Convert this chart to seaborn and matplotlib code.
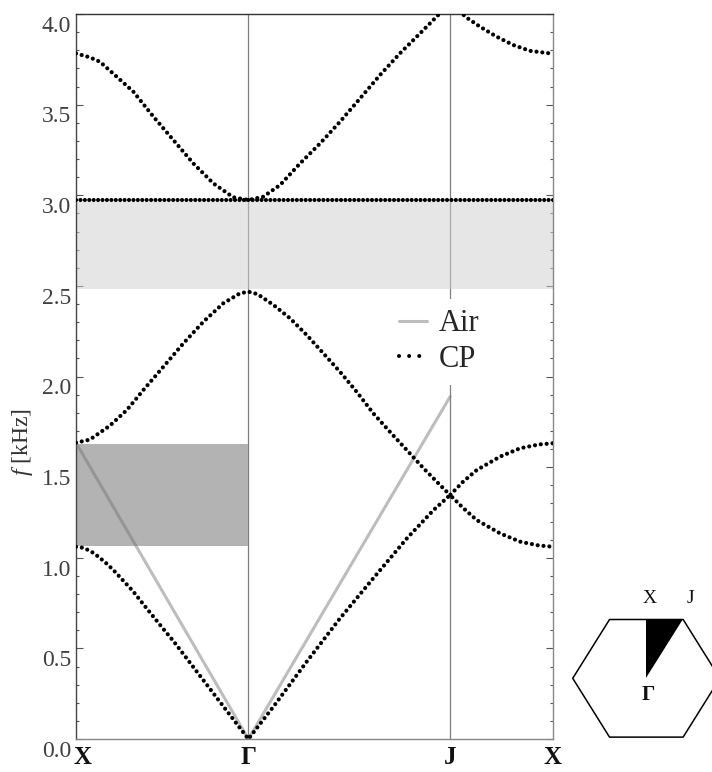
import matplotlib
import matplotlib.pyplot as plt
import matplotlib.transforms as mtransforms
import seaborn as sns

from matplotlib.lines import Line2D

matplotlib.use("Agg")

# symmetry points along the path X - Gamma - J - X
sym_pos = [0.0, 0.570, 1.237, 1.577]
sym_labels = ["X", "Γ", "J", "X"]

y_ticks = [0.0, 0.5, 1.0, 1.5, 2.0, 2.5, 3.0, 3.5, 4.0]
y_tick_labels = ["0.0", "0.5", "1.0", "1.5", "2.0", "2.5", "3.0", "3.5", "4.0"]

# CP bands
band1_k = [0.000, 0.025, 0.050, 0.075, 0.100, 0.125, 0.150, 0.189, 0.222, 0.256,
           0.289, 0.322, 0.355, 0.388, 0.421, 0.454, 0.487, 0.520, 0.570, 0.653,
           0.763, 0.873, 0.983, 1.094, 1.182, 1.237, 1.280, 1.325, 1.402, 1.468,
           1.530, 1.577]
band1_f = [1.061, 1.055, 1.035, 1.005, 0.970, 0.930, 0.885, 0.815, 0.745, 0.675,
           0.607, 0.541, 0.469, 0.397, 0.325, 0.253, 0.181, 0.109, 0.000, 0.179,
           0.427, 0.666, 0.887, 1.107, 1.263, 1.346, 1.275, 1.208, 1.135, 1.089,
           1.068, 1.061]

band2_k = [0.000, 0.046, 0.112, 0.168, 0.223, 0.289, 0.355, 0.421, 0.487, 0.542,
           0.570, 0.600, 0.653, 0.708, 0.763, 0.818, 0.873, 0.928, 0.983, 1.038,
           1.094, 1.149, 1.204, 1.237, 1.280, 1.325, 1.402, 1.468, 1.530, 1.577]
band2_f = [1.635, 1.652, 1.729, 1.815, 1.926, 2.054, 2.183, 2.302, 2.404, 2.459,
           2.468, 2.455, 2.395, 2.321, 2.229, 2.128, 2.026, 1.916, 1.797, 1.695,
           1.594, 1.494, 1.401, 1.346, 1.420, 1.484, 1.558, 1.604, 1.625, 1.632]

band3_k = [0.000, 0.570, 1.237, 1.577]
band3_f = [2.974, 2.974, 2.974, 2.974]

band4_k = [0.000, 0.046, 0.079, 0.129, 0.190, 0.256, 0.322, 0.388, 0.454, 0.520,
           0.570, 0.619, 0.675, 0.741, 0.807, 0.873, 0.939, 1.005, 1.071, 1.138,
           1.198, 1.237, 1.292, 1.336, 1.391, 1.446, 1.501, 1.5675, 1.577]
band4_f = [3.783, 3.761, 3.737, 3.663, 3.571, 3.434, 3.305, 3.176, 3.066, 2.989,
           2.974, 2.992, 3.057, 3.176, 3.286, 3.406, 3.534, 3.663, 3.783, 3.894,
           3.995, 4.060, 3.980, 3.930, 3.875, 3.829, 3.797, 3.783, 3.783]

# air light line
air_k = [0.000, 0.570, 1.237]
air_f = [1.635, 0.000, 1.889]

# band gaps
full_gap = (2.481, 2.965)
partial_gap = (1.065, 1.628)
partial_gap_k = [0.000, 0.570]

# Brillouin zone sketch (unit hexagon, irreducible wedge Gamma-X-J)
hex_x = [1.0, 0.5, -0.5, -1.0, -0.5, 0.5, 1.0]
hex_y = [0.0, 0.866, 0.866, 0.0, -0.866, -0.866, 0.0]
ibz_x = [0.0, 0.0, 0.5]
ibz_y = [0.0, 0.866, 0.866]

sns.set_theme(style="white")
plt.rcParams["font.family"] = ["Liberation Serif", "DejaVu Serif"]
plt.rcParams["mathtext.fontset"] = "custom"
plt.rcParams["mathtext.rm"] = "Liberation Serif"
plt.rcParams["mathtext.it"] = "Liberation Serif:italic"

DOT = (0, (0.01, 1.4))
DOT_FLAT = (0, (0.01, 1.05))
AIR_COLOR = "#757575"

fig = plt.figure(figsize=(7.12, 7.72), dpi=100)
ax = fig.add_axes([0.1067, 0.0427, 0.6699, 0.9391])

for xv in sym_pos[1:3]:
    ax.axvline(xv, color="#7f7f7f", lw=0.9, zorder=0.5)

ax.axhspan(*full_gap, color="#d0d0d0", alpha=0.53, lw=0, zorder=1)
ax.fill_between(partial_gap_k, partial_gap[0], partial_gap[1],
                color="#b3b3b3", lw=0, zorder=1)

sns.lineplot(x=air_k, y=air_f, ax=ax, color=AIR_COLOR, alpha=0.48, lw=2.2,
             sort=False, estimator=None, zorder=3)

for k, f in [(band1_k, band1_f), (band2_k, band2_f), (band4_k, band4_f)]:
    sns.lineplot(x=k, y=f, ax=ax, color="black", lw=3.0, linestyle=DOT,
                 dash_capstyle="round", sort=False, estimator=None, zorder=4)
sns.lineplot(x=band3_k, y=band3_f, ax=ax, color="black", lw=3.0, linestyle=DOT_FLAT,
             dash_capstyle="round", sort=False, estimator=None, zorder=4)

ax.set_xlim(sym_pos[0], sym_pos[-1])
ax.set_ylim(0, 4)
ax.set_xticks(sym_pos)
ax.set_xticklabels(sym_labels, fontweight="bold", fontsize=18, color="#111111")
ax.set_yticks(y_ticks)
ax.set_yticklabels(y_tick_labels, fontsize=17, color="#404040")
ax.set_yticks([v / 10 for v in range(41)], minor=True)
ax.tick_params(axis="x", length=0, pad=5)
ax.tick_params(axis="y", which="both", direction="in", left=True, right=True,
               color="#555555", width=0.8, pad=3.5)
ax.tick_params(axis="y", which="major", length=5)
ax.tick_params(axis="y", which="minor", length=2.5)

# labels sit a little below their ticks, like the original
shift = mtransforms.ScaledTranslation(0, -7 / 72, fig.dpi_scale_trans)
for lbl in ax.get_yticklabels():
    lbl.set_transform(lbl.get_transform() + shift)
# first X label is nudged right, clear of the 0.0 label
nudge = mtransforms.ScaledTranslation(5 / 72, 0, fig.dpi_scale_trans)
first_x = ax.get_xticklabels()[0]
first_x.set_transform(first_x.get_transform() + nudge)

ax.set_ylabel(r"$f$ [kHz]", fontsize=17, color="#333333")
ax.yaxis.set_label_coords(-0.086, 0.41)

ax.spines["top"].set_color("#333333")
ax.spines["left"].set_color("#444444")
ax.spines["bottom"].set_color("#888888")
ax.spines["right"].set_color("#888888")
for sp in ax.spines.values():
    sp.set_linewidth(1.0)

handles = [
    Line2D([], [], color=AIR_COLOR, alpha=0.48, lw=2.2),
    Line2D([], [], color="black", lw=2.9, linestyle=(0, (0.01, 2.5)),
           dash_capstyle="round"),
]
ax.legend(handles=handles, labels=["Air", "CP"], loc="upper left",
          bbox_to_anchor=(0.655, 0.6076), borderaxespad=0, frameon=True,
          facecolor="white", edgecolor="none", framealpha=1, fancybox=False,
          fontsize=22, handlelength=0.92, handletextpad=0.38, labelspacing=0.22,
          borderpad=0.35)

# Brillouin zone inset
ax_hex = fig.add_axes([565 / 712, 27 / 772, 147 / 712, 160 / 772])
ax_hex.axis("off")
ax_hex.set_xlim(-1.105, 0.892)
ax_hex.set_ylim(-0.982, 1.374)
ax_hex.plot(hex_x, hex_y, color="black", lw=1.1)
ax_hex.fill(ibz_x, ibz_y, color="black", lw=0)
ax_hex.text(ibz_x[1] + 0.04, ibz_y[1] + 0.31, "X", ha="center", va="center",
            fontsize=14, color="#111111")
ax_hex.text(ibz_x[2] + 0.094, ibz_y[2] + 0.31, "J", ha="center", va="center",
            fontsize=14, color="#111111")
ax_hex.text(ibz_x[0] + 0.02, ibz_y[0] - 0.25, "Γ", ha="center", va="center",
            fontsize=15, fontweight="bold", color="#111111")

fig.savefig("out.png", dpi=100)
plt.close(fig)
